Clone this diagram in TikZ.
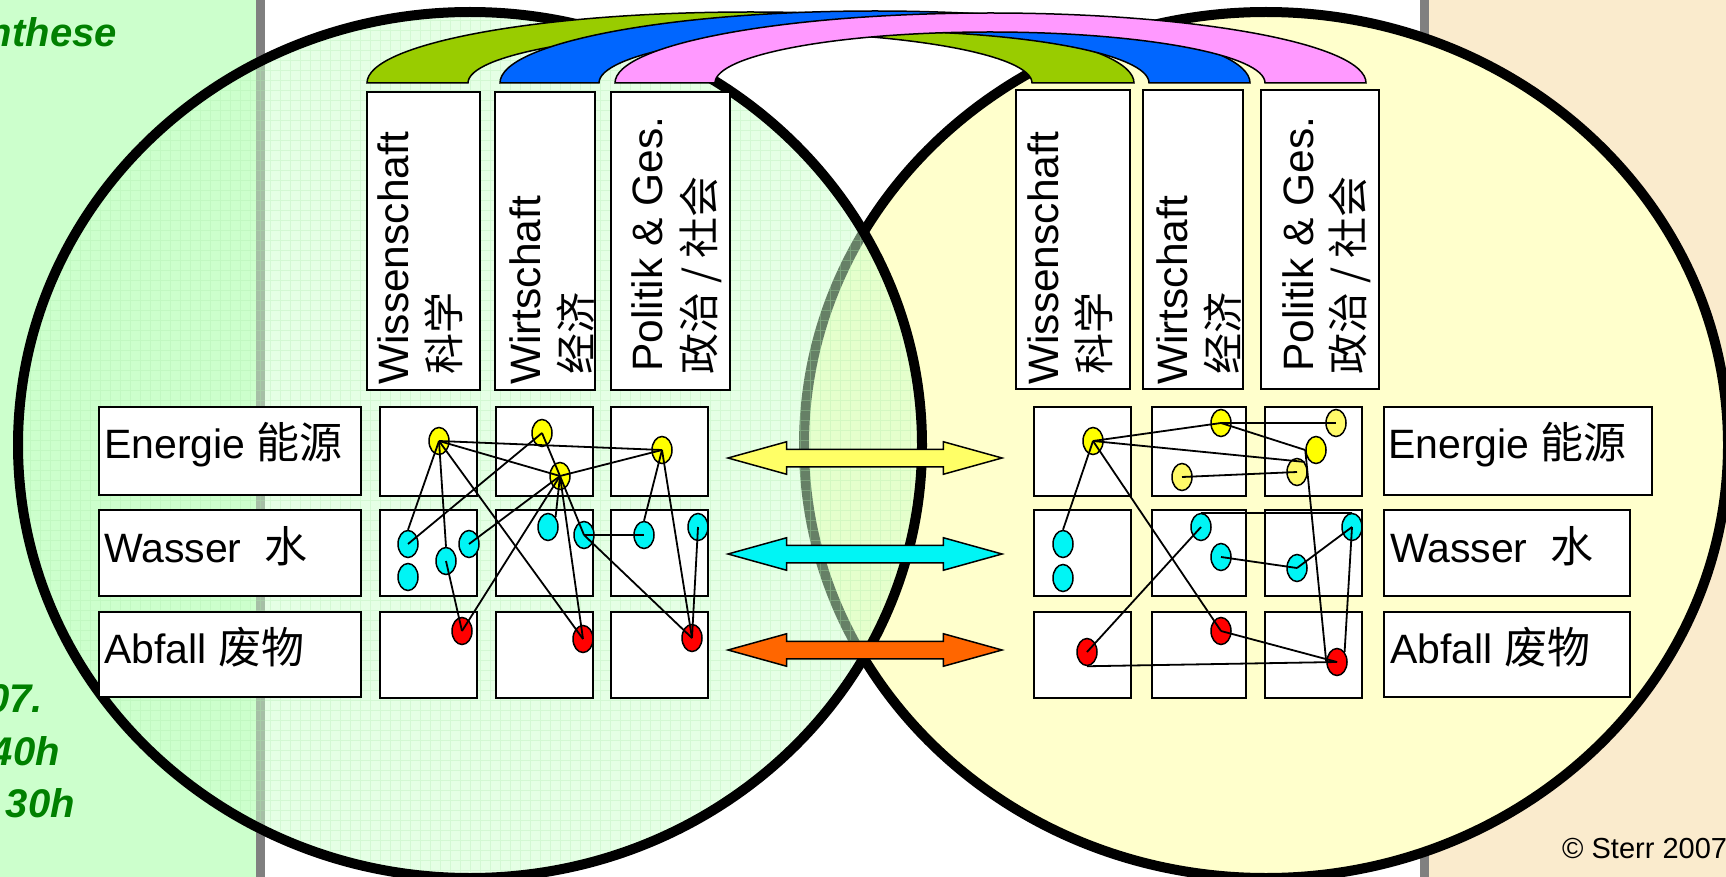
\documentclass[tikz,border=0pt]{standalone}
\usepackage{fontspec}
\setmainfont{Liberation Sans}
\newfontfamily\cjk{Noto Sans CJK SC}
\usetikzlibrary{shapes.geometric,shapes.arrows}

\definecolor{panelgreen}{RGB}{204,255,204}
\definecolor{panelbeige}{RGB}{250,235,205}
\definecolor{bargray}{RGB}{128,128,128}
\definecolor{circyellow}{RGB}{255,255,204}
\definecolor{gridgreen}{RGB}{170,235,170}
\definecolor{bandgreen}{RGB}{153,204,0}
\definecolor{bandblue}{RGB}{0,102,255}
\definecolor{bandpink}{RGB}{255,153,255}
\definecolor{dotyellow}{RGB}{255,255,0}
\definecolor{dotpale}{RGB}{255,250,105}
\definecolor{dotcyan}{RGB}{0,245,245}
\definecolor{dotred}{RGB}{255,0,0}
\definecolor{arrowyellow}{RGB}{255,255,102}
\definecolor{arroworange}{RGB}{255,102,0}
\definecolor{notegreen}{RGB}{0,128,0}

\newcommand\cn[1]{{\cjk\fontsize{43}{49}\selectfont #1}}

\begin{document}
\begin{tikzpicture}[
      x=1pt,y=-1pt,
      ring/.style={line width=10pt},
      band/.style={draw=black,line width=1.5pt},
      box/.style={draw=black,fill=white,line width=2pt},
      hdr/.style={rotate=90,anchor=base west,inner sep=0pt,font=\fontsize{42.5}{50}\selectfont},
      hdrcn/.style={rotate=90,anchor=base west,inner sep=0pt,font=\cjk\fontsize{41}{50}\selectfont},
      lbl/.style={anchor=base west,inner sep=0pt,font=\fontsize{41}{49}\selectfont},
      blob/.style={ellipse,draw=black,line width=1.5pt,minimum width=20pt,minimum height=27pt,inner sep=0pt},
      wire/.style={line width=1.8pt},
      flowarrow/.style={double arrow,draw=black,line width=1.5pt,minimum height=274pt,minimum width=0pt,
        inner xsep=0pt,inner ysep=8pt,double arrow head extend=7.5pt,double arrow tip angle=31},
      note/.style={anchor=base east,inner sep=0pt,text=notegreen,font=\bfseries\itshape\fontsize{40}{48}\selectfont}
    ]
    \useasboundingbox (0,0) rectangle (1726,877);
    \clip (0,0) rectangle (1726,877);
    \fill[white] (0,0) rectangle (1726,877);
    \fill[panelgreen] (0,0) rectangle (256,877);
    \fill[bargray] (256,0) rectangle (265,877);
    \fill[bargray] (1420,0) rectangle (1429,877);
    \fill[panelbeige] (1429,0) rectangle (1726,877);

    \draw[ring,fill=circyellow] (1266,445) ellipse [x radius=462pt,y radius=433pt];
    \fill[panelgreen,fill opacity=.5] (470,445) ellipse [x radius=452pt,y radius=433pt];
    \begin{scope}
      \clip (470,445) ellipse [x radius=452pt,y radius=433pt];
      \draw[gridgreen,opacity=.3,line width=.8pt,step=10pt] (0,0) grid (930,880);
    \end{scope}
    \draw[ring] (470,445) ellipse [x radius=452pt,y radius=433pt];

    \draw[band,fill=bandgreen] (367,83) arc[start angle=180,end angle=0,x radius=383.5pt,y radius=71pt]
      -- (1032,83) arc[start angle=0,end angle=180,x radius=282pt,y radius=51pt] -- cycle;
    \draw[band,fill=bandblue] (500,83) arc[start angle=180,end angle=0,x radius=375pt,y radius=72pt]
      -- (1149,83) arc[start angle=0,end angle=180,x radius=275pt,y radius=52pt] -- cycle;
    \draw[band,fill=bandpink] (615,83) arc[start angle=180,end angle=0,x radius=375.5pt,y radius=70pt]
      -- (1265,83) arc[start angle=0,end angle=180,x radius=275pt,y radius=51pt] -- cycle;

    \draw[box] (367,92) rectangle (480,390);
    \draw[box] (495,92) rectangle (595,390);
    \draw[box] (611,92) rectangle (730,390);
    \node[hdr] (lsci) at (408,385) {Wissenschaft};
    \node[hdrcn] (lscicn) at (459,375) {科学};
    \node[hdr] (lecon) at (540,385) {Wirtschaft};
    \node[hdrcn] (leconcn) at (591,375) {经济};
    \node[hdr] (lpol) at (662,372) {Politik \& Ges.};
    \node[hdrcn] (lpolcn) at (714,375) {政治 / 社会};

    \draw[box] (1016,90) rectangle (1130,389);
    \draw[box] (1143,90) rectangle (1243,389);
    \draw[box] (1261,90) rectangle (1379,389);
    \node[hdr] (rsci) at (1058,385) {Wissenschaft};
    \node[hdrcn] (rscicn) at (1109,375) {科学};
    \node[hdr] (recon) at (1187,385) {Wirtschaft};
    \node[hdrcn] (reconcn) at (1238,375) {经济};
    \node[hdr] (rpol) at (1313,372) {Politik \& Ges.};
    \node[hdrcn] (rpolcn) at (1363,375) {政治 / 社会};

    \draw[box] (99,407) rectangle (361,495);
    \draw[box] (99,510) rectangle (361,596);
    \draw[box] (99,612) rectangle (361,697);
    \node[lbl] (lenergy) at (104,458) {Energie \cn{能源}};
    \node[lbl] (lwater) at (104,562) {Wasser\ \ \cn{水}};
    \node[lbl] (lwaste) at (104,663) {Abfall \cn{废物}};

    \draw[box] (1384,407) rectangle (1652,495);
    \draw[box] (1384,510) rectangle (1630,596);
    \draw[box] (1384,612) rectangle (1630,697);
    \node[lbl] (renergy) at (1388,458) {Energie \cn{能源}};
    \node[lbl] (rwater) at (1390,562) {Wasser\ \ \cn{水}};
    \node[lbl] (rwaste) at (1390,663) {Abfall \cn{废物}};

    \draw[box] (380,407) rectangle (477,496);
    \draw[box] (496,407) rectangle (593,496);
    \draw[box] (611,407) rectangle (708,496);
    \draw[box] (380,510) rectangle (477,596);
    \draw[box] (496,510) rectangle (593,596);
    \draw[box] (611,510) rectangle (708,596);
    \draw[box] (380,612) rectangle (477,698);
    \draw[box] (496,612) rectangle (593,698);
    \draw[box] (611,612) rectangle (708,698);

    \draw[box] (1034,407) rectangle (1131,496);
    \draw[box] (1152,407) rectangle (1246,496);
    \draw[box] (1265,407) rectangle (1362,496);
    \draw[box] (1034,510) rectangle (1131,596);
    \draw[box] (1152,510) rectangle (1246,596);
    \draw[box] (1265,510) rectangle (1362,596);
    \draw[box] (1034,612) rectangle (1131,698);
    \draw[box] (1152,612) rectangle (1246,698);
    \draw[box] (1265,612) rectangle (1362,698);

    \node[blob,fill=dotyellow] (ly1) at (439,441) {};
    \node[blob,fill=dotyellow] (ly2) at (542,433) {};
    \node[blob,fill=dotyellow] (ly3) at (560,476) {};
    \node[blob,fill=dotyellow] (ly4) at (662,450) {};
    \node[blob,fill=dotcyan] (lc1) at (408,544) {};
    \node[blob,fill=dotcyan] (lc2) at (408,577) {};
    \node[blob,fill=dotcyan] (lc3) at (446,561) {};
    \node[blob,fill=dotcyan] (lc4) at (469,544) {};
    \node[blob,fill=dotcyan] (lc5) at (548,527) {};
    \node[blob,fill=dotcyan] (lc6) at (584,535) {};
    \node[blob,fill=dotcyan] (lc7) at (644,535) {};
    \node[blob,fill=dotcyan] (lc8) at (698,527) {};
    \node[blob,fill=dotred] (lr1) at (462,631) {};
    \node[blob,fill=dotred] (lr2) at (583,639) {};
    \node[blob,fill=dotred] (lr3) at (692,638) {};

    \draw[wire] (ly1.center) -- (ly4.center);
    \draw[wire] (ly1.center) -- (ly3.center);
    \draw[wire] (ly3.center) -- (ly4.center);
    \draw[wire] (ly2.center) -- (ly3.center);
    \draw[wire] (ly2.center) -- (lc1.center);
    \draw[wire] (ly1.center) -- (lc1.north);
    \draw[wire] (ly1.center) -- (lc3.north);
    \draw[wire] (lc3.center) -- (lr1.center);
    \draw[wire] (ly1.center) -- (lr2.center);
    \draw[wire] (ly3.center) -- (lc4.center);
    \draw[wire] (ly3.center) -- (lr1.center);
    \draw[wire] (ly3.center) -- (lc5.north east);
    \draw[wire] (ly3.center) -- (lr2.center);
    \draw[wire] (ly3.center) -- (lc6.center);
    \draw[wire] (lc6.center) -- (lc7.center);
    \draw[wire] (lc6.center) -- (lr3.center);
    \draw[wire] (ly4.center) -- (lc7.north);
    \draw[wire] (ly4.center) -- (lr3.center);
    \draw[wire] (lc8.center) -- (lr3.center);

    \node[blob,fill=dotyellow] (ry1) at (1093,441) {};
    \node[blob,fill=dotyellow] (ry2) at (1221,423) {};
    \node[blob,fill=dotpale] (ry3) at (1336,423) {};
    \node[blob,fill=dotyellow] (ry4) at (1316,450) {};
    \node[blob,fill=dotpale] (ry5) at (1182,477) {};
    \node[blob,fill=dotpale] (ry6) at (1297,472) {};
    \node[blob,fill=dotcyan] (rc1) at (1063,544) {};
    \node[blob,fill=dotcyan] (rc2) at (1063,578) {};
    \node[blob,fill=dotcyan] (rc3) at (1201,527) {};
    \node[blob,fill=dotcyan] (rc4) at (1221,557) {};
    \node[blob,fill=dotcyan] (rc5) at (1297,568) {};
    \node[blob,fill=dotcyan] (rc6) at (1352,527) {};
    \node[blob,fill=dotred] (rr1) at (1087,652) {};
    \node[blob,fill=dotred] (rr2) at (1221,631) {};
    \node[blob,fill=dotred] (rr3) at (1337,662) {};

    \draw[wire] (ry1.center) -- (ry2.center);
    \draw[wire] (ry1.center) -- (ry6.north east);
    \draw[wire] (ry2.center) -- (ry3.center);
    \draw[wire] (ry2.center) -- (ry4.west);
    \draw[wire] (ry5.center) -- (ry6.center);
    \draw[wire] (ry4.west) -- (rr3.west);
    \draw[wire] (ry1.center) -- (rc1.north);
    \draw[wire] (ry1.center) -- (rr2.center);
    \draw[wire] (rc3.north) -- (rc6.north);
    \draw[wire] (rc3.center) -- (rr1.center);
    \draw[wire] (rc4.center) -- (rc5.center);
    \draw[wire] (rc5.center) -- (rc6.center);
    \draw[wire] (rc6.center) -- (rr3.north east);
    \draw[wire] (rr2.center) -- (rr3.center);
    \draw[wire] (rr1.south) -- (rr3.center);

    \node[flowarrow,fill=arrowyellow] (energyarrow) at (865,458) {};
    \node[flowarrow,fill=dotcyan] (waterarrow) at (865,554) {};
    \node[flowarrow,fill=arroworange] (wastearrow) at (865,650) {};

    \node[note] (notetop) at (117,47) {nthese};
    \node[note] (noteyear) at (43,712) {07.};
    \node[note] (notefirst) at (60,765) {40h};
    \node[note] (notesecond) at (75,817) {30h};
    \node[anchor=base west,inner sep=0pt,font=\fontsize{29}{35}\selectfont] (copy) at (1562,858) {\textcopyright{} Sterr 2007};
  \end{tikzpicture}
\end{document}
